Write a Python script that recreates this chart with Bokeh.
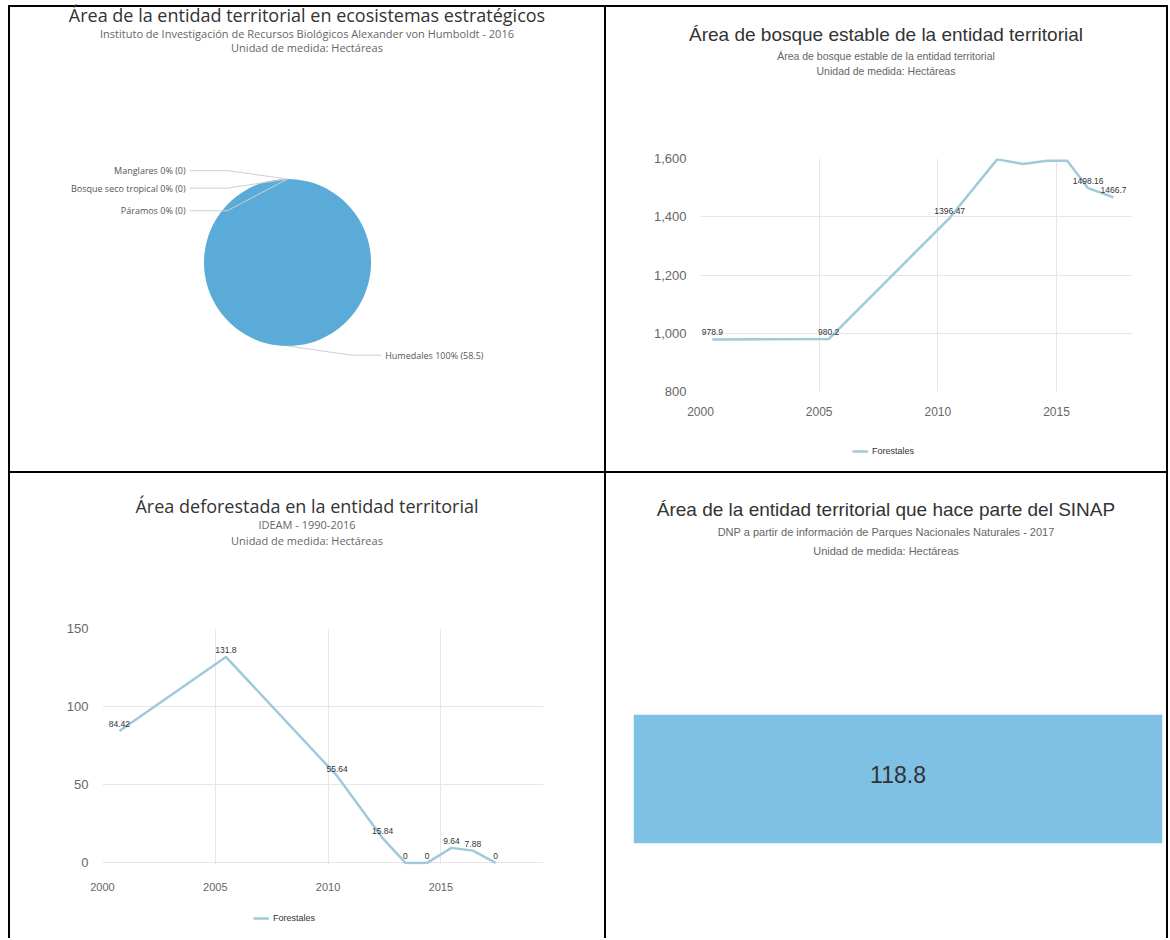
import math
from bokeh.plotting import figure
from bokeh.layouts import row, column
from bokeh.models import (Legend, LegendItem, NumeralTickFormatter, FixedTicker,
                          ColumnDataSource, Range1d, Div, Spacer)
from bokeh.core.properties import value
from bokeh.embed import file_html
from bokeh.resources import INLINE

# ---------------- data ----------------
eco_names = ["Manglares", "Bosque seco tropical", "Páramos", "Humedales"]
eco_values = [0.0, 0.0, 0.0, 58.5]

forest_years = [2000.5, 2005.4, 2010.5, 2012.5, 2013.6, 2014.6, 2015.45, 2016.33, 2017.4]
forest_values = [978.9, 980.2, 1396.47, 1597.0, 1581.0, 1592.0, 1592.0, 1498.16, 1466.7]
forest_y_ticks = [800, 1000, 1200, 1400, 1600]

defo_years = [2000.75, 2005.47, 2010.4, 2012.42, 2013.43, 2014.39, 2015.47, 2016.42, 2017.43]
defo_values = [84.42, 131.8, 55.64, 15.84, 0, 0, 9.64, 7.88, 0]
defo_y_ticks = [0, 50, 100, 150]

year_ticks = [2000, 2005, 2010, 2015]
series_name = "Forestales"
sinap_area = 118.8

t1_title = "Área de la entidad territorial en ecosistemas estratégicos"
t1_sub = ["Instituto de Investigación de Recursos Biológicos Alexander von Humboldt - 2016",
          "Unidad de medida: Hectáreas"]
t2_title = "Área de bosque estable de la entidad territorial"
t2_sub = ["Área de bosque estable de la entidad territorial", "Unidad de medida: Hectáreas"]
t3_title = "Área deforestada en la entidad territorial"
t3_sub = ["IDEAM - 1990-2016", "Unidad de medida: Hectáreas"]
t4_title = "Área de la entidad territorial que hace parte del SINAP"
t4_sub = ["DNP a partir de información de Parques Nacionales Naturales - 2017",
          "Unidad de medida: Hectáreas"]

# ---------------- style ----------------
SANS_A = "Open Sans"
SANS_B = "Liberation Sans"
PIE_COLOR = "#5aabd8"
BOX_COLOR = "#7fc1e4"
LINE_COLOR = "#9fcadb"
GRID = "#e6e6e6"

LW, RW = 594, 560          # panel widths
TH, BH = 464, 465          # row heights


def base_fig(w, h, **kw):
    p = figure(width=w, height=h, output_backend="svg", toolbar_location=None, **kw)
    p.outline_line_color = None
    p.background_fill_color = "white"
    p.border_fill_color = "white"
    return p


def title_div(w, h, lines):
    """lines: (text, font, size_px, line_height, color, margin_top)"""
    parts = []
    for text, font, size, lh, color, mt in lines:
        parts.append(
            f'<div style="display:block;width:{w}px;font-family:\'{font}\';font-size:{size}px;'
            f'line-height:{lh}px;color:{color};text-align:center;white-space:nowrap;'
            f'margin:{mt}px 0 0 0;padding:0;">{text}</div>')
    return Div(text=f'<div style="width:{w}px;">' + "".join(parts) + "</div>",
               width=w, height=h, margin=0, styles={"background-color": "white"})


def sep(w, h):
    return Div(text="", width=w, height=h, margin=0, styles={"background-color": "black"})


def style_axes(p, xsize, ysize, xstand):
    for ax in p.axis:
        ax.axis_line_color = None
        ax.major_tick_line_color = None
        ax.minor_tick_line_color = None
        ax.major_label_text_color = "#666666"
        ax.major_label_text_font = SANS_B
    p.xaxis.major_label_text_font_size = xsize
    p.yaxis.major_label_text_font_size = ysize
    p.xaxis.major_label_standoff = xstand
    p.yaxis.major_label_standoff = 8
    p.grid.grid_line_color = GRID
    p.xaxis.ticker = FixedTicker(ticks=year_ticks)
    p.xgrid.ticker = FixedTicker(ticks=year_ticks)
    p.yaxis.formatter = NumeralTickFormatter(format="0,0")


def legend_fig(w, h, xs, ys, loc):
    """Small strip under a chart that carries the series legend."""
    lf = base_fig(w, h, x_range=Range1d(0, 1), y_range=Range1d(0, 1),
                  x_axis_location=None, y_axis_location=None,
                  min_border_left=0, min_border_right=0, min_border_top=0, min_border_bottom=0)
    lf.grid.visible = False
    # same series; it lies outside this strip's ranges, only its legend entry shows
    r = lf.line(xs, ys, line_color=LINE_COLOR, line_width=2.5)
    lg = Legend(items=[LegendItem(label=series_name, renderers=[r])],
                location=loc, orientation="horizontal",
                border_line_color=None, background_fill_alpha=0,
                label_text_font_size="9px", label_text_font=SANS_B,
                label_text_color="#333333", glyph_width=16, glyph_height=10,
                padding=4, margin=0, spacing=4, label_standoff=4)
    lf.add_layout(lg)
    return lf


# ---------------- panel 1 : pie ----------------
D1H = 50
d1 = title_div(LW, D1H, [
    (t1_title, SANS_A, 18, 17, "#333333", 0),
    (t1_sub[0], SANS_A, 11, 13, "#666666", 3),
    (t1_sub[1], SANS_A, 11, 13, "#666666", 1),
])
P1H = TH - D1H
pie_r_px = 83.5
pie_cx_px, pie_cy_px = 277, 205
p1 = base_fig(LW, P1H,
              x_range=Range1d(-pie_cx_px / pie_r_px, (LW - pie_cx_px) / pie_r_px),
              y_range=Range1d(-(P1H - pie_cy_px) / pie_r_px, pie_cy_px / pie_r_px),
              x_axis_location=None, y_axis_location=None,
              min_border_left=0, min_border_right=0, min_border_top=0, min_border_bottom=0)
p1.grid.visible = False

total = sum(eco_values)
start = math.pi / 2
w_start, w_end, edge_x, edge_y, pct = [], [], [], [], []
for v in eco_values:
    frac = v / total
    end = start - 2 * math.pi * frac
    mid = (start + end) / 2
    edge_x.append(math.cos(mid))
    edge_y.append(math.sin(mid))
    pct.append(round(100 * frac))
    if frac > 0:
        w_start.append(start)
        w_end.append(start - 2 * math.pi * frac * 0.99995)
    start = end
p1.wedge(x=0, y=0, radius=1, start_angle=w_start, end_angle=w_end, direction="clock",
         fill_color=PIE_COLOR, line_color=None)

labels = [f"{n} {p}% ({v:g})" for n, p, v in zip(eco_names, pct, eco_values)]
# label anchor positions (layout), in pie-radius units
lab_pos = [(-1.22, 1.10), (-1.22, 0.89), (-1.22, 0.62), (1.17, -1.11)]
lab_side = ["right", "right", "right", "left"]
for (lx, ly), side, ex, ey, txt in zip(lab_pos, lab_side, edge_x, edge_y, labels):
    gap = 0.05 if side == "right" else -0.05
    p1.line(x=[lx + gap, lx + gap + (0.45 if side == "right" else -0.35), ex],
            y=[ly, ly, ey], line_color="#cfcfcf", line_width=1)
    p1.text(x=[lx], y=[ly], text=[txt], text_align=side, text_baseline="middle",
            text_font=value(SANS_A), text_font_size="9px", text_color="#555555")

# ---------------- panel 2 : forest line ----------------
D2H = 73
d2 = title_div(RW, D2H, [
    (t2_title, SANS_B, 19, 20, "#333333", 18),
    (t2_sub[0], SANS_B, 10.5, 13, "#666666", 4.5),
    (t2_sub[1], SANS_B, 10.5, 13, "#666666", 2),
])
P2H = 341
P2_MB = dict(min_border_left=94, min_border_right=34, min_border_top=78, min_border_bottom=30)
L2H = TH - D2H - P2H
p2 = base_fig(RW, P2H, x_range=Range1d(2000, 2018.2),
              y_range=Range1d(forest_y_ticks[0], forest_y_ticks[-1]), **P2_MB)
style_axes(p2, "12px", "13px", 9)
p2.yaxis.ticker = FixedTicker(ticks=forest_y_ticks)
p2.line(forest_years, forest_values, line_color=LINE_COLOR, line_width=2.5)
frame_h2 = P2H - P2_MB["min_border_top"] - P2_MB["min_border_bottom"]
px_per_unit = frame_h2 / (forest_y_ticks[-1] - forest_y_ticks[0])
vis = [(forest_y_ticks[-1] - v) * px_per_unit > 24 for v in forest_values]
src2 = ColumnDataSource(dict(
    x=[x for x, s in zip(forest_years, vis) if s],
    y=[y for y, s in zip(forest_values, vis) if s],
    t=[f"{y:g}" for y, s in zip(forest_values, vis) if s]))
p2.text("x", "y", text="t", source=src2, text_align="center", text_baseline="bottom",
        y_offset=-4, text_font=value(SANS_B), text_font_size="8.5px", text_color="#333333")
l2 = legend_fig(RW, L2H, forest_years, forest_values, (152, 15))

# ---------------- panel 3 : deforestation line ----------------
D3H = 75
d3 = title_div(LW, D3H, [
    (t3_title, SANS_A, 18, 20, "#333333", 23),
    (t3_sub[0], SANS_A, 11, 13, "#666666", 1.5),
    (t3_sub[1], SANS_A, 11, 13, "#666666", 3),
])
P3H = 348
L3H = BH - D3H - P3H
p3 = base_fig(LW, P3H, x_range=Range1d(2000, 2019.55),
              y_range=Range1d(-1, defo_y_ticks[-1]),
              min_border_left=92, min_border_right=61, min_border_top=80, min_border_bottom=32)
style_axes(p3, "11px", "13px", 12)
p3.yaxis.ticker = FixedTicker(ticks=defo_y_ticks)
p3.line(defo_years, defo_values, line_color=LINE_COLOR, line_width=2.5)
src3 = ColumnDataSource(dict(x=defo_years, y=defo_values, t=[f"{v:g}" for v in defo_values]))
p3.text("x", "y", text="t", source=src3, text_align="center", text_baseline="bottom",
        y_offset=-4, text_font=value(SANS_B), text_font_size="8.5px", text_color="#333333")
l3 = legend_fig(LW, L3H, defo_years, defo_values, (151, 15))

# ---------------- panel 4 : SINAP box ----------------
D4H = 85
d4 = title_div(RW, D4H, [
    (t4_title, SANS_B, 19, 20, "#333333", 27),
    (t4_sub[0], SANS_B, 11, 13, "#666666", 5.5),
    (t4_sub[1], SANS_B, 11, 13, "#666666", 6),
])
P4H = BH - D4H
p4 = base_fig(RW, P4H, x_range=Range1d(0, sinap_area), y_range=Range1d(0, 1),
              x_axis_location=None, y_axis_location=None,
              min_border_left=27, min_border_right=4, min_border_top=156, min_border_bottom=95)
p4.grid.visible = False
src4 = ColumnDataSource(dict(y=[0.5], right=[sinap_area], xm=[sinap_area / 2],
                             t=[f"{sinap_area:g}"]))
p4.hbar(y="y", left=0, right="right", height=1, source=src4, fill_color=BOX_COLOR,
        line_color=None)
p4.text("xm", "y", text="t", source=src4, text_align="center", text_baseline="middle",
        y_offset=-5, text_font=value(SANS_B), text_font_size="23px", text_color="#333333")

# ---------------- page ----------------
FULL_W = 2 + LW + 2 + RW + 2
row1 = row(sep(2, TH), column(d1, p1), sep(2, TH), column(d2, p2, l2), sep(2, TH))
row2 = row(sep(2, BH), column(d3, p3, l3), sep(2, BH), column(d4, p4), sep(2, BH))
grid = column(sep(FULL_W, 2), row1, sep(FULL_W, 2), row2)
page = column(Spacer(width=10, height=5), row(Spacer(width=8, height=10), grid))

open("out.html", "w").write(file_html(page, INLINE, "Entidad territorial"))
